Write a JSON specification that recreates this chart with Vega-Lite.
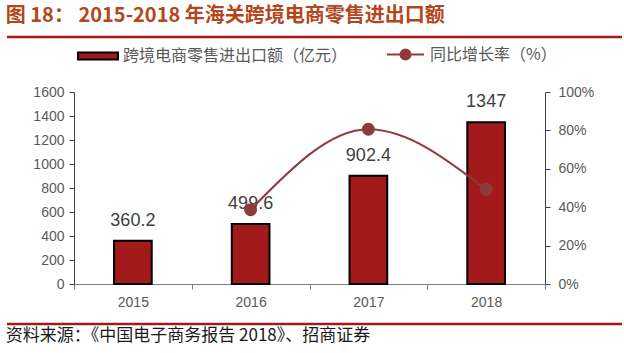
{
  "$schema": "https://vega.github.io/schema/vega-lite/v6.json",
  "background": "white",
  "padding": {"left": 5, "right": 4, "top": 6, "bottom": 0},
  "spacing": 0,
  "title": {"text": "图 18：  2015-2018 年海关跨境电商零售进出口额", "anchor": "start", "frame": "bounds", "font": "Noto Sans CJK SC", "fontSize": 20, "fontWeight": "bold", "color": "#B5451B", "offset": 9},
  "config": {"view": {"stroke": null}, "font": "Noto Sans CJK SC"},
  "datasets": {
    "sales": [
      {"year": "2015", "value": 360.2, "growth": null, "s1": "跨境电商零售进出口额（亿元）", "s2": "同比增长率（%）"},
      {"year": "2016", "value": 499.6, "growth": 0.387, "s1": "跨境电商零售进出口额（亿元）", "s2": "同比增长率（%）"},
      {"year": "2017", "value": 902.4, "growth": 0.806, "s1": "跨境电商零售进出口额（亿元）", "s2": "同比增长率（%）"},
      {"year": "2018", "value": 1347, "growth": 0.493, "s1": "跨境电商零售进出口额（亿元）", "s2": "同比增长率（%）"}
    ],
    "rule": [{"a": 0, "b": 1, "y": 1}]
  },
  "vconcat": [
    {
      "width": 471, "height": 48,
      "data": {"name": "rule"},
      "mark": {"type": "rule", "color": "#A3191B", "strokeWidth": 2.5, "clip": false},
      "encoding": {
        "x": {"field": "a", "type": "quantitative", "scale": {"domain": [0.10894, 0.8748], "nice": false, "zero": false, "clamp": false}, "axis": null},
        "x2": {"field": "b"},
        "y": {"field": "y", "type": "quantitative", "scale": {"domain": [0, 1]}, "axis": null}
      }
    },
    {
      "width": 471, "height": 192,
      "data": {"name": "sales"},
      "encoding": {
        "x": {"field": "year", "type": "nominal", "scale": {"paddingInner": 0, "paddingOuter": 0},
          "axis": {"title": null, "labelAngle": 0, "tickBand": "extent", "domainColor": "#808080", "tickColor": "#808080", "tickSize": 5, "labelColor": "#595959", "labelFontSize": 14, "labelFont": "Liberation Sans", "labelPadding": 6, "minExtent": 38}}
      },
      "layer": [
        {
          "encoding": {
            "y": {"field": "value", "type": "quantitative", "scale": {"domain": [0, 1600], "nice": false},
              "axis": {"title": null, "format": "d", "values": [0, 200, 400, 600, 800, 1000, 1200, 1400, 1600], "grid": false, "domainColor": "#404040", "tickColor": "#404040", "tickSize": 5, "labelColor": "#595959", "labelFontSize": 14, "labelFont": "Liberation Sans", "labelPadding": 5, "minExtent": 67}}
          },
          "layer": [
            {
              "mark": {"type": "bar", "width": {"band": 0.32}, "stroke": "#000000", "strokeWidth": 2},
              "encoding": {
                "fill": {"field": "s1", "type": "nominal", "scale": {"range": ["#A31A1A"]},
                  "legend": {"title": null, "orient": "none", "legendX": 3, "legendY": -2, "symbolType": "M-1,-0.18H1V0.18H-1Z", "symbolSize": 1600, "symbolStrokeColor": "#000000", "symbolStrokeWidth": 2, "labelFontSize": 16, "labelColor": "#595959", "labelLimit": 400, "labelOffset": 4}}
              }
            },
            {
              "mark": {"type": "text", "baseline": "bottom", "dy": -11, "fontSize": 18, "font": "Liberation Sans", "color": "#404040"},
              "encoding": {"text": {"field": "value", "type": "nominal"}}
            }
          ]
        },
        {
          "transform": [{"filter": "datum.growth != null"}],
          "mark": {"type": "line", "interpolate": "monotone", "strokeWidth": 2, "point": {"filled": true, "size": 120, "color": "#8E3B3B"}},
          "encoding": {
            "y": {"field": "growth", "type": "quantitative", "scale": {"domain": [0, 1], "nice": false},
              "axis": {"orient": "right", "title": null, "format": ".0%", "values": [0, 0.2, 0.4, 0.6, 0.8, 1], "grid": false, "domainColor": "#404040", "tickColor": "#404040", "tickSize": 5, "labelColor": "#595959", "labelFontSize": 14, "labelFont": "Liberation Sans", "labelPadding": 8}},
            "stroke": {"field": "s2", "type": "nominal", "scale": {"range": ["#8E3B3B"]},
              "legend": {"title": null, "orient": "none", "legendX": 312, "legendY": -2, "symbolType": "M-1,0H1M0.27,0A0.27,0.27 0 1,1 -0.27,0A0.27,0.27 0 1,1 0.27,0Z", "symbolSize": 1369, "symbolFillColor": "#8E3B3B", "symbolStrokeWidth": 2, "labelFontSize": 16, "labelColor": "#595959", "labelLimit": 400, "labelOffset": 5}}
          }
        }
      ],
      "resolve": {"scale": {"y": "independent"}}
    },
    {
      "width": 471, "height": 1,
      "data": {"name": "rule"},
      "mark": {"type": "rule", "color": "#A3191B", "strokeWidth": 2.5, "clip": false},
      "encoding": {
        "x": {"field": "a", "type": "quantitative", "scale": {"domain": [0.10894, 0.8748], "nice": false, "zero": false, "clamp": false}, "axis": null},
        "x2": {"field": "b"},
        "y": {"field": "y", "type": "quantitative", "scale": {"domain": [0, 1]}, "axis": null}
      },
      "title": {"text": "资料来源：《中国电子商务报告 2018》、招商证券", "orient": "bottom", "anchor": "start", "frame": "bounds", "baseline": "top", "font": "Noto Sans CJK SC", "fontSize": 17, "fontWeight": "normal", "color": "#1A1A1A", "offset": 3}
    }
  ]
}
